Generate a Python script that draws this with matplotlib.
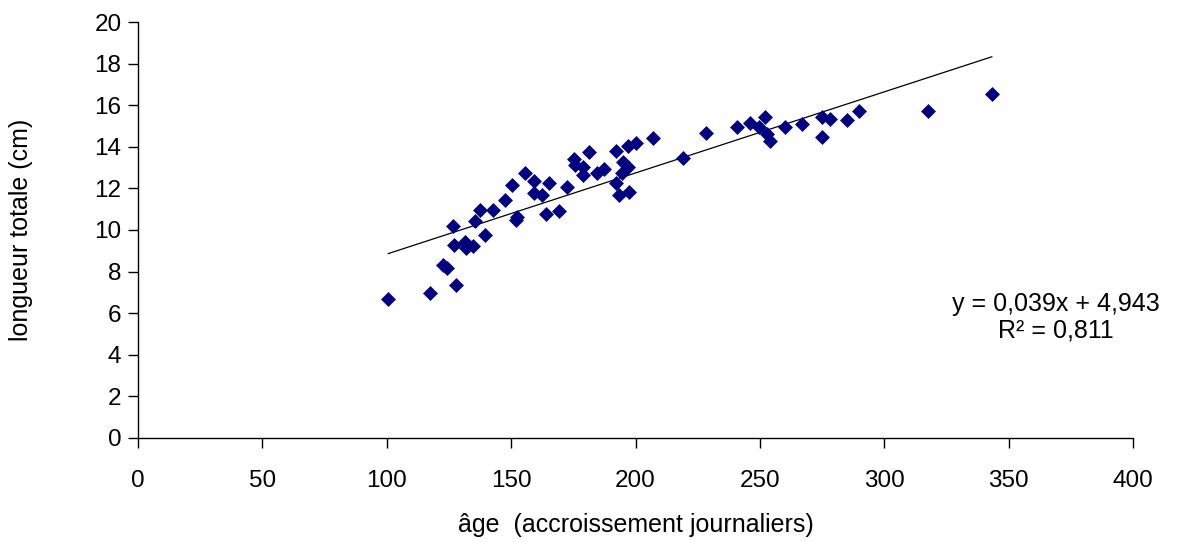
import matplotlib

matplotlib.use("Agg")
import matplotlib.pyplot as plt
import numpy as np

# age (daily growth increments) and total length (cm)
age = [
    100.6, 117.4, 127.7, 122.6, 124.2, 126.8, 127.0, 131.5, 131.7, 134.8,
    135.5, 137.5, 139.5, 142.6, 147.5, 150.5, 151.8, 152.2, 155.6, 159.3,
    159.3, 162.3, 163.9, 165.3, 169.4, 172.5, 175.3, 175.7, 178.9, 178.9,
    181.3, 184.4, 187.3, 192.2, 197.1, 200.2, 195.1, 197.1, 194.4, 192.2,
    193.5, 197.5, 207.2, 219.2, 228.3, 240.9, 246.0, 252.1, 249.6, 252.7,
    254.1, 260.1, 267.1, 274.9, 274.9, 278.2, 284.9, 290.0, 317.7, 343.2,
]
longueur = [
    6.67, 6.96, 7.36, 8.32, 8.17, 10.19, 9.28, 9.44, 9.13, 9.23,
    10.45, 10.96, 9.75, 10.96, 11.44, 12.16, 10.48, 10.64, 12.73, 12.37,
    11.76, 11.68, 10.75, 12.25, 10.93, 12.05, 13.41, 13.13, 13.04, 12.64,
    13.75, 12.73, 12.92, 13.81, 14.04, 14.17, 13.28, 13.04, 12.73, 12.27,
    11.68, 11.84, 14.41, 13.45, 14.65, 14.94, 15.13, 15.45, 14.97, 14.62,
    14.29, 14.94, 15.10, 14.46, 15.42, 15.32, 15.29, 15.72, 15.72, 16.52,
]

# linear trend as printed on the chart
slope = 0.039
intercept = 4.943
r2 = 0.811

x_ticks = [0, 50, 100, 150, 200, 250, 300, 350, 400]
y_ticks = [0, 2, 4, 6, 8, 10, 12, 14, 16, 18, 20]

plt.rcParams["font.family"] = ["Liberation Sans", "DejaVu Sans"]

fig = plt.figure(figsize=(11.84, 5.42), dpi=100)
ax = fig.add_axes([0.1166, 0.1919, 0.8404, 0.7675])

ax.scatter(age, longueur, marker="D", s=58, color="#000080", linewidths=0, zorder=3)

xs = np.array([min(age), max(age)])
ax.plot(xs, slope * xs + intercept, color="black", lw=0.9, zorder=2)

ax.set_xlim(0, 400)
ax.set_ylim(0, 20)
ax.set_xticks(x_ticks)
ax.set_yticks(y_ticks)
ax.tick_params(direction="out", length=7, width=1, labelsize=17.5, pad=5)
ax.tick_params(axis="x", pad=16)
for side in ("top", "right"):
    ax.spines[side].set_visible(False)
for side in ("left", "bottom"):
    ax.spines[side].set_linewidth(1)

ax.set_xlabel("âge  (accroissement journaliers)", fontsize=18, labelpad=15)
ax.set_ylabel("longueur totale (cm)", fontsize=18, labelpad=44)

eq = f"y = {slope:.3f}x + {intercept:.3f}".replace(".", ",")
rr = f"R² = {r2:.3f}".replace(".", ",")
ax.text(369, 5.8, eq + "\n" + rr, ha="center", va="center", fontsize=18,
        linespacing=1.15, clip_on=False)

fig.savefig("out.png", dpi=100)
